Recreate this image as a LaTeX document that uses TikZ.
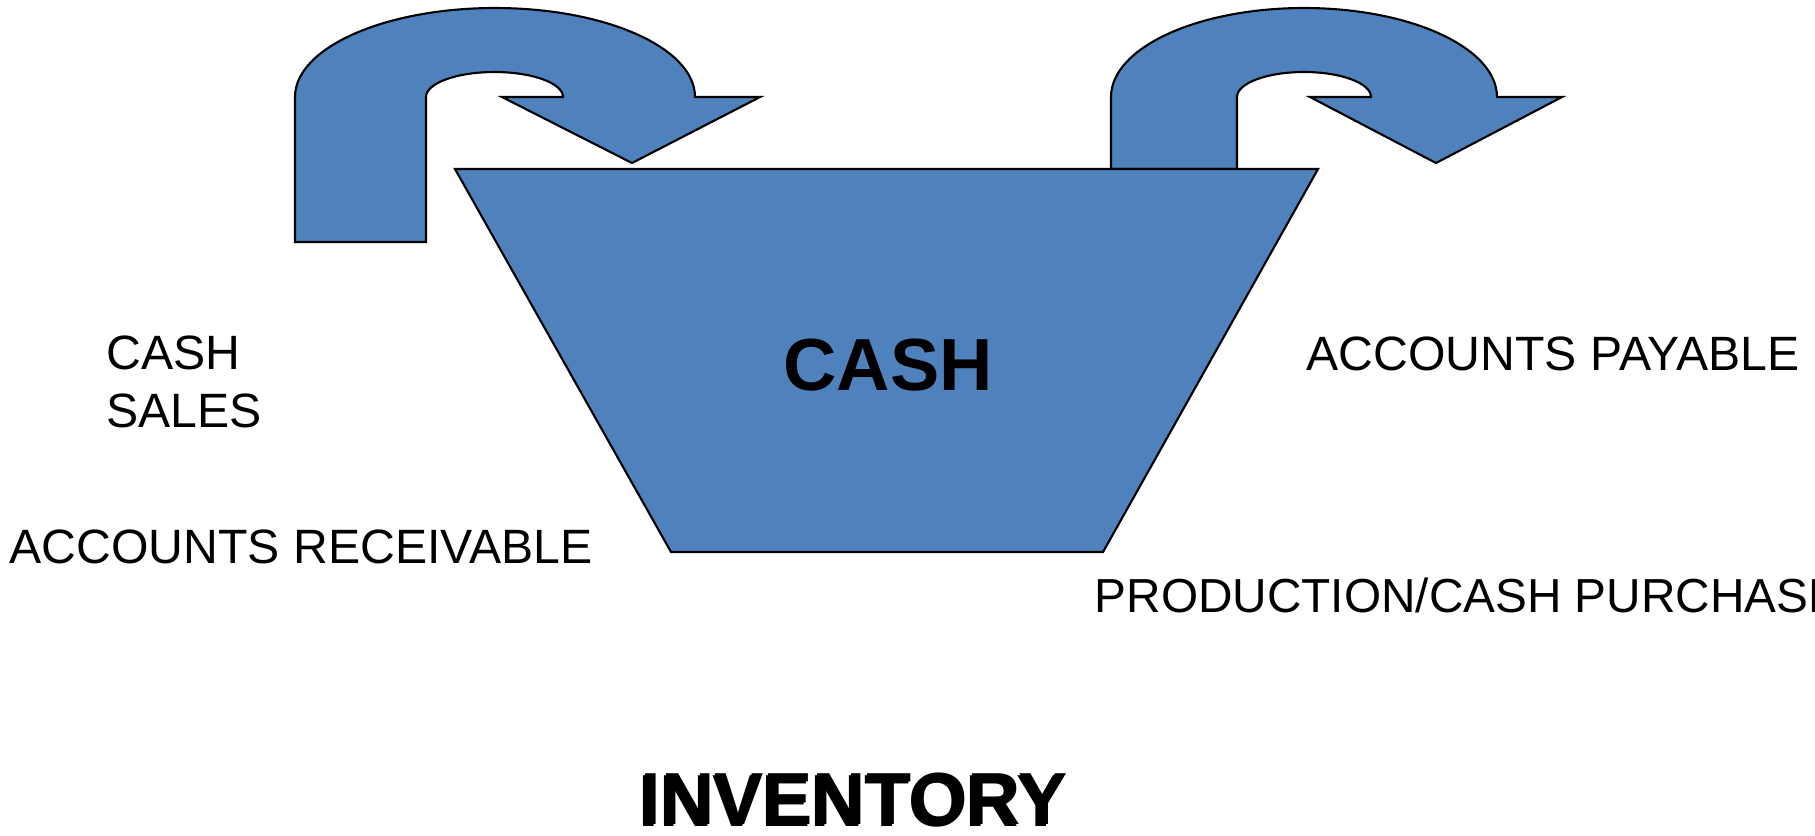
\documentclass[tikz,border=0pt]{standalone}
\usepackage{fontspec}
\setmainfont{Liberation Sans}
\usetikzlibrary{positioning}

\definecolor{azulcaixa}{HTML}{4F81BD}

\begin{document}
\begin{tikzpicture}[x=0.01cm, y=-0.01cm]

  % --- CONFIGURAÇÕES GERAIS ---
  \def\topo{97}   % linha onde começam as pontas das setas

  % Estilos das formas e dos textos
  \tikzstyle{forma}=[fill=azulcaixa, draw=black, line width=0.6pt]
  \tikzstyle{rotulo}=[inner sep=0pt, anchor=base west, font=\fontsize{13.7}{16}\selectfont]
  \tikzstyle{titulo}=[inner sep=0pt, anchor=base, font=\fontsize{21}{25}\selectfont\bfseries]

  \useasboundingbox (0,0) rectangle (1815,835);
  \clip (0,0) rectangle (1815,835);

  % --- SETA ESQUERDA (entrada no caixa) ---
  \draw[forma] (295,242) -- (295,\topo)
    arc[start angle=180, end angle=360, x radius=200, y radius=89]
    -- (760,\topo) -- (632,163) -- (502,\topo) -- (563,\topo)
    arc[start angle=0, end angle=-180, x radius=68.5, y radius=25]
    -- (426,242) -- cycle;

  % --- SETA DIREITA (saída do caixa) ---
  \draw[forma] (1111,169) -- (1111,\topo)
    arc[start angle=180, end angle=360, x radius=193, y radius=89]
    -- (1562,\topo) -- (1436,163) -- (1310,\topo) -- (1371,\topo)
    arc[start angle=0, end angle=-180, x radius=67, y radius=25]
    -- (1237,169) -- cycle;

  % --- CAIXA (trapézio) ---
  \draw[forma] (455,169) -- (1318,169) -- (1103,552) -- (671,552) -- cycle;
  \node[titulo] (caixa) at (888,390) {CASH};

  % --- ENTRADAS ---
  \node[rotulo] (vendas) at (106,369) {CASH};
  \node[rotulo] (vendasB) at (106,427) {SALES};
  \node[rotulo] (receber) at (9,563) {ACCOUNTS RECEIVABLE};

  % --- SAÍDAS ---
  \node[rotulo, font=\fontsize{13.58}{16}\selectfont] (compras) at (1094,612) {PRODUCTION/CASH PURCHASE};
  \node[rotulo] (pagar) at (1306,370) {ACCOUNTS PAYABLE};

  % --- ESTOQUE (com sombra leve) ---
  \node[titulo] (estoqueSombra) at (852,826) {INVENTORY};
  \node[titulo] (estoque) at (854,824) {INVENTORY};

\end{tikzpicture}
\end{document}
